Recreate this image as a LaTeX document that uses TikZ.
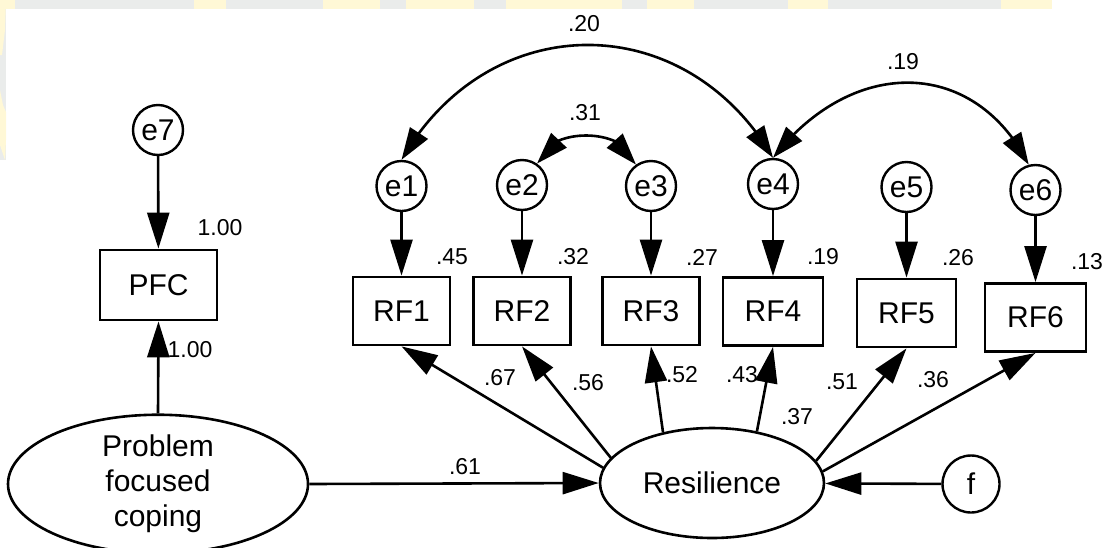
\documentclass[tikz,border=0pt]{standalone}
\usepackage{fontspec}
\setmainfont{Liberation Sans}
\usetikzlibrary{arrows.meta,bending,shapes.geometric}
\definecolor{wmgray}{HTML}{EAECEB}
\definecolor{wmyellow}{HTML}{FFF8D6}
\begin{document}
\begin{tikzpicture}[x=1pt,y=-1pt,
  every node/.style={font=\fontsize{30}{35}\selectfont},
  lat/.style={draw, line width=2.6pt, ellipse, inner sep=0pt},
  obs/.style={draw, line width=2.8pt, rectangle, inner sep=0pt,
              minimum width=97pt, minimum height=68pt},
  err/.style={draw, line width=2.4pt, circle, inner sep=0pt, minimum size=50pt},
  coef/.style={font=\fontsize{23}{27}\selectfont, inner sep=0pt},
  regpath/.style={line width=2.6pt, -{Triangle[length=36pt,width=22pt]}},
  covpath/.style={line width=2.6pt,
    {Triangle[length=32pt,width=21pt]}-{Triangle[length=32pt,width=21pt]}},
]
\useasboundingbox (0,0) rectangle (1113,547);

% faint banner along the upper and left edges
\fill[wmgray] (0,0) rectangle (1052,8.5);
\fill[wmgray] (0,0) rectangle (6,160);
\foreach \a/\b in {0/15,194/226,323/380,406/474,506/622,647/694,788/828,1001/1052}
  \fill[wmyellow] (\a,0) rectangle (\b,8.5);
\fill[wmyellow] (0,0) -- (6,0) -- (5,30) -- (2,55) -- (0,55) -- cycle;
\fill[wmyellow] (0,90) -- (3,105) -- (6,112) -- (6,140) -- (5,160) -- (0,145) -- cycle;

% observed and latent variables
\node[err] (e7) at (158,130) {e7};
\node[obs, minimum width=117pt, minimum height=70pt] (PFC) at (158.5,285) {PFC};
\node[lat, minimum width=300pt, minimum height=124pt, align=center] (PFCop) at (158,484)
  {Problem\\focused\\coping};
\node[lat, minimum width=224pt, minimum height=110pt] (Res) at (712,483) {Resilience};
\node[err, minimum size=57pt] (f) at (971,484) {f};

\node[obs] (RF1) at (401.5,311) {RF1};
\node[obs] (RF2) at (522,311) {RF2};
\node[obs] (RF3) at (651,311) {RF3};
\node[obs, minimum width=100pt] (RF4) at (773,311.5) {RF4};
\node[obs, minimum width=99pt] (RF5) at (906.5,313) {RF5};
\node[obs, minimum width=101pt] (RF6) at (1035.5,317.5) {RF6};

\node[err] (e1) at (401.5,186) {e1};
\node[err] (e2) at (522,185) {e2};
\node[err] (e3) at (651,186) {e3};
\node[err] (e4) at (773,184) {e4};
\node[err] (e5) at (906.5,187) {e5};
\node[err] (e6) at (1035.5,190) {e6};

% regression paths
\draw[regpath] (e7) -- (PFC);
\draw[regpath] (PFCop.north) -- (PFC.south);
\draw[regpath] (PFCop.east) -- (Res.west);
\draw[regpath] (f) -- (Res);
\foreach \i in {1,...,6}
  \draw[regpath] (e\i) -- (RF\i);
\draw[regpath] (Res.172) -- (RF1.south);
\draw[regpath] (Res.166) -- (RF2.south);
\draw[regpath] (Res.134) -- (RF3.south);
\draw[regpath] (Res.49) -- (RF4.south);
\draw[regpath] (Res.12.5) -- (RF5.south);
\draw[regpath] (Res.6.7) -- (RF6.south);

% covariances between error terms
\draw[covpath] (e1.north) .. controls (489,7) and (685,7) .. (e4.north);
\draw[covpath] (e4.north) .. controls (853,55) and (975,58) .. (e6.105);
\draw[covpath] (e2.55) .. controls (545,126) and (628,126) .. (e3.125);

% estimates
\node[coef] (c20) at (584,24) {.20};
\node[coef] (c19) at (903,62) {.19};
\node[coef] (c31) at (585,113) {.31};
\node[coef] (r7) at (220,228) {1.00};
\node[coef] (l7) at (190,350) {1.00};
\node[coef] (r1) at (452,257) {.45};
\node[coef] (r2) at (573,257) {.32};
\node[coef] (r3) at (702,257) {.27};
\node[coef] (r4) at (823,257) {.19};
\node[coef] (r5) at (958,258) {.26};
\node[coef] (r6) at (1087,262) {.13};
\node[coef] (l1) at (500,378) {.67};
\node[coef] (l2) at (588,383) {.56};
\node[coef] (l3) at (682,375) {.52};
\node[coef] (l4) at (742,375) {.43};
\node[coef] (rr) at (797,417) {.37};
\node[coef] (l5) at (842,382) {.51};
\node[coef] (l6) at (933,380) {.36};
\node[coef] (g) at (465,467) {.61};
\end{tikzpicture}
\end{document}
